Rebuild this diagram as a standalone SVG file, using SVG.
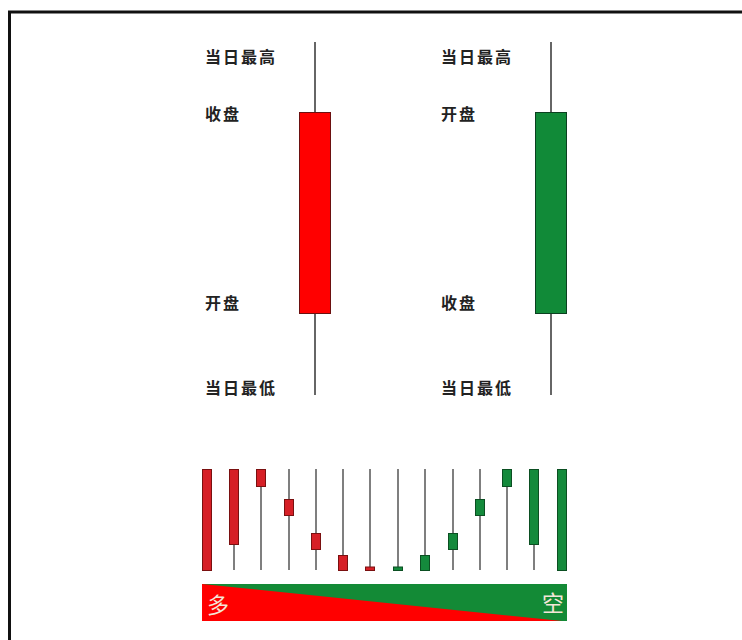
<svg xmlns="http://www.w3.org/2000/svg" width="742" height="640" viewBox="0 0 742 640">
<style>
.lbl{font-family:"Liberation Sans","Noto Sans CJK SC",sans-serif;font-size:16px;letter-spacing:2px;font-weight:bold;fill:#222}
.wick{stroke:#555;stroke-width:1.5}
.mwick{stroke:#333;stroke-width:1.5}
.r{fill:#d61f26;stroke:#7a1010;stroke-width:1}
.g{fill:#148a3c;stroke:#0b4f22;stroke-width:1}
.big{font-family:"Liberation Sans","Noto Sans CJK SC",sans-serif;font-size:22px;fill:#f4e6d8}
</style>
<rect width="742" height="640" fill="#fff"/>
<path d="M9.5 640 V12 H742" fill="none" stroke="#111" stroke-width="3"/>
<g id="candle-up">
<line class="mwick" x1="315" y1="42" x2="315" y2="395"/>
<rect x="299.5" y="112.5" width="31" height="201" fill="#ff0000" stroke="#6b1010"/>
<text class="lbl" x="205" y="63">当日最高</text>
<text class="lbl" x="205" y="120">收盘</text>
<text class="lbl" x="205" y="309">开盘</text>
<text class="lbl" x="205" y="394">当日最低</text>
</g>
<g id="candle-down">
<line class="mwick" x1="551" y1="42" x2="551" y2="395"/>
<rect x="535.5" y="112.5" width="31" height="201" fill="#118a38" stroke="#0b4020"/>
<text class="lbl" x="441" y="63">当日最高</text>
<text class="lbl" x="441" y="120">开盘</text>
<text class="lbl" x="441" y="309">收盘</text>
<text class="lbl" x="441" y="394">当日最低</text>
</g>
<g id="connectors">
<line class="wick" x1="234" y1="469" x2="234" y2="570"/>
<line class="wick" x1="261" y1="469" x2="261" y2="570"/>
<line class="wick" x1="289" y1="469" x2="289" y2="570"/>
<line class="wick" x1="316" y1="469" x2="316" y2="570"/>
<line class="wick" x1="343" y1="469" x2="343" y2="570"/>
<line class="wick" x1="370" y1="469" x2="370" y2="570"/>
<line class="wick" x1="398" y1="469" x2="398" y2="570"/>
<line class="wick" x1="425" y1="469" x2="425" y2="570"/>
<line class="wick" x1="453" y1="469" x2="453" y2="570"/>
<line class="wick" x1="480" y1="469" x2="480" y2="570"/>
<line class="wick" x1="507" y1="469" x2="507" y2="570"/>
<line class="wick" x1="534" y1="469" x2="534" y2="570"/>
</g>
<g id="series">
<rect class="r" x="202.5" y="469.5" width="9" height="101"/>
<rect class="r" x="229.5" y="469.5" width="9" height="75"/>
<rect class="r" x="256.5" y="469.5" width="9" height="17"/>
<rect class="r" x="284.5" y="499.5" width="9" height="16"/>
<rect class="r" x="311.5" y="533.5" width="9" height="16"/>
<rect class="r" x="338.5" y="555.5" width="9" height="15"/>
<rect class="r" x="365.5" y="567" width="9" height="3.5"/>
<rect class="g" x="393.5" y="567" width="9" height="3.5"/>
<rect class="g" x="420.5" y="555.5" width="9" height="15"/>
<rect class="g" x="448.5" y="533.5" width="9" height="16"/>
<rect class="g" x="475.5" y="499.5" width="9" height="16"/>
<rect class="g" x="502.5" y="469.5" width="9" height="17"/>
<rect class="g" x="529.5" y="469.5" width="9" height="75"/>
<rect class="g" x="557.5" y="469.5" width="9" height="101"/>
</g>
<g id="bar">
<rect x="202" y="584" width="365" height="37" fill="#138a36"/>
<polygon points="202,584 562,621 202,621" fill="#ff0000"/>
<text class="big" x="207" y="613">多</text>
<text class="big" x="542" y="611">空</text>
</g>
</svg>
